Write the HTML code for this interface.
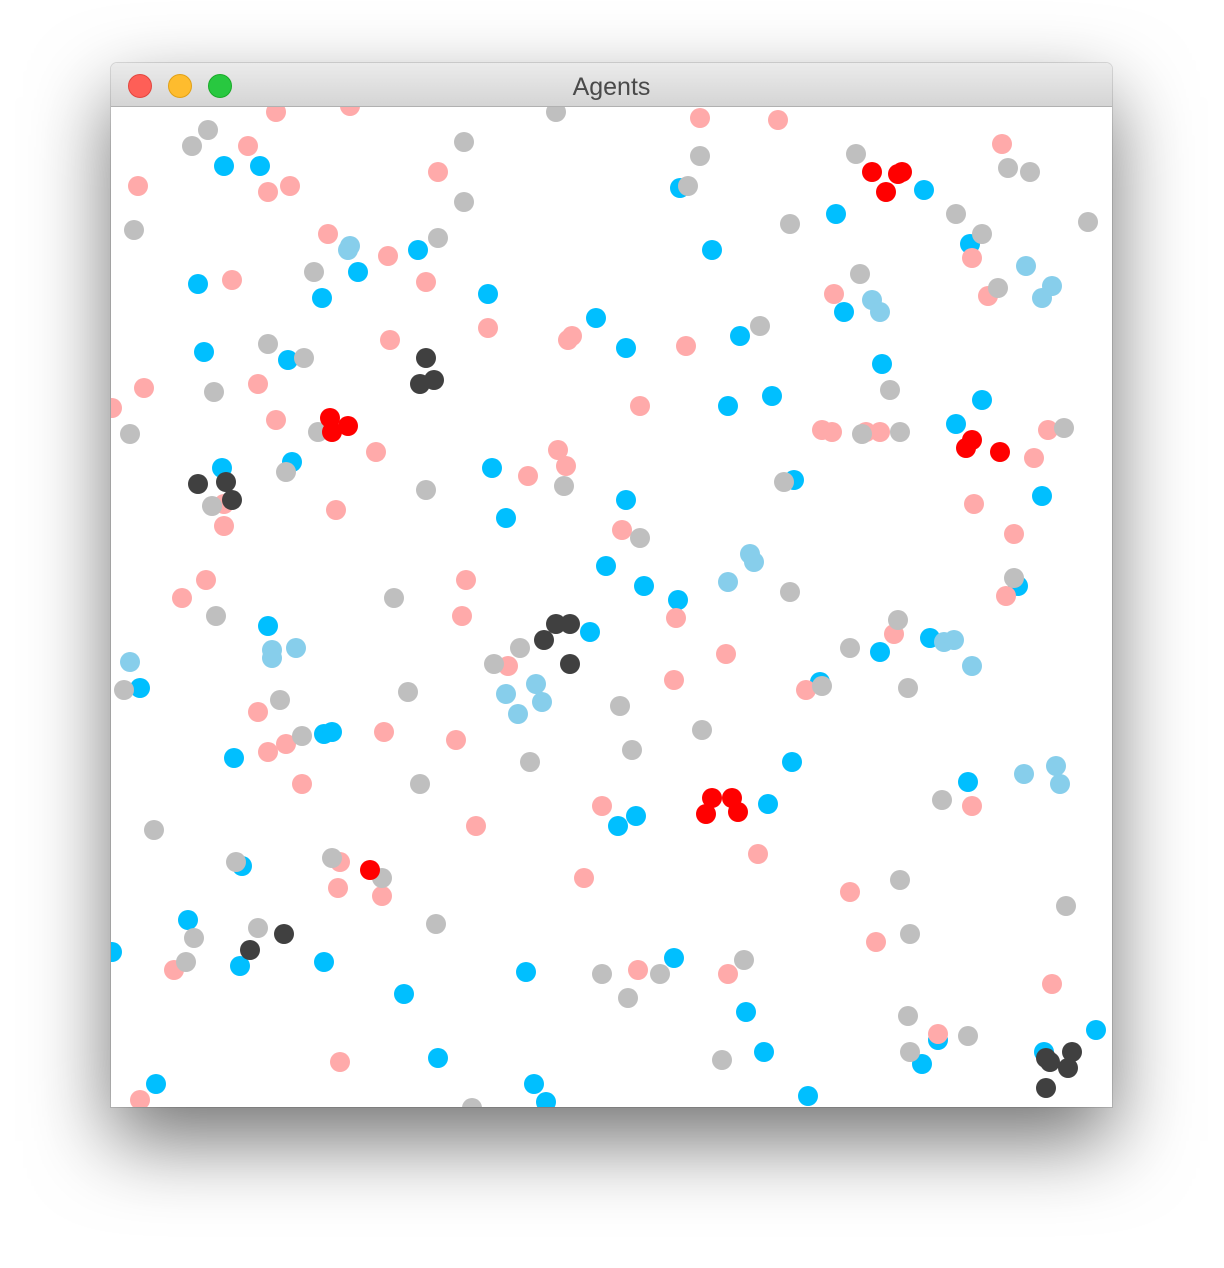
<!DOCTYPE html>
<html><head><meta charset="utf-8">
<style>
html,body{margin:0;padding:0;background:#fff;width:1224px;height:1268px;overflow:hidden;}
#win{position:absolute;left:111px;top:63px;width:1001px;height:1044px;border-radius:6px 6px 0 0;box-shadow:0 34px 80px rgba(0,0,0,0.55),0 0 0 1px rgba(0,0,0,0.12);background:#fff;overflow:hidden;}
#bar{position:absolute;left:0;top:0;width:1001px;height:44px;background:linear-gradient(#ebebeb,#d5d5d5);border-bottom:1px solid #b1b1b1;box-sizing:border-box;}
.tl{position:absolute;top:11px;width:24px;height:24px;border-radius:50%;box-sizing:border-box;}
#title{position:absolute;left:0;width:1001px;top:10px;text-align:center;font:25px "Liberation Sans",sans-serif;color:#4a4a4a;}
svg{position:absolute;left:0;top:44px;}
</style></head><body>
<div id="win">
 <div id="bar">
  <div class="tl" style="left:17px;background:#fe5f57;border:1px solid #e2463f"></div>
  <div class="tl" style="left:57px;background:#febc2e;border:1px solid #e1a116"></div>
  <div class="tl" style="left:97px;background:#28c840;border:1px solid #1aab29"></div>
  <div id="title">Agents</div>
 </div>
 <svg id="plot" width="1001" height="1000"></svg>
</div>
<script>
const pinkX=[276,350,248,138,268,290,438,700,778,1002,328,388,232,426,488,390,572,568,686,834,972,988,144,258,112,276,640,376,558,566,528,822,832,866,880,1048,1034,336,224,224,974,1014,622,206,182,466,462,676,894,1006,726,508,674,806,258,384,456,268,286,302,602,972,476,758,340,338,382,584,850,876,174,638,728,1052,938,340,140];
const pinkY=[112,106,146,186,192,186,172,118,120,144,234,256,280,282,328,340,336,340,346,294,258,296,388,384,408,420,406,452,450,466,476,430,432,432,432,430,458,510,504,526,504,534,530,580,598,580,616,618,634,596,654,666,680,690,712,732,740,752,744,784,806,806,826,854,862,888,896,878,892,942,970,970,974,984,1034,1062,1100];
const grayX=[208,192,464,556,700,688,856,1008,1030,464,134,790,956,982,1088,438,314,860,998,760,268,304,214,890,130,318,862,900,1064,286,426,564,784,212,640,1014,790,394,216,898,850,520,494,124,280,408,908,822,620,302,702,632,530,420,942,154,236,332,382,900,1066,436,258,194,910,186,602,660,744,628,908,968,910,722,472];
const grayY=[130,146,142,112,156,186,154,168,172,202,230,224,214,234,222,238,272,274,288,326,344,358,392,390,434,432,434,432,428,472,490,486,482,506,538,578,592,598,616,620,648,648,664,690,700,692,688,686,706,736,730,750,762,784,800,830,862,858,878,880,906,924,928,938,934,962,974,974,960,998,1016,1036,1052,1060,1108];
const blueX=[224,260,680,924,836,418,712,970,358,198,322,488,596,844,204,288,626,740,882,772,728,982,956,222,292,492,794,1042,626,506,606,644,678,1018,268,590,930,880,140,820,324,332,234,792,968,768,636,618,242,188,112,240,324,526,674,404,746,1096,938,764,438,922,1044,156,534,546,808];
const blueY=[166,166,188,190,214,250,250,244,272,284,298,294,318,312,352,360,348,336,364,396,406,400,424,468,462,468,480,496,500,518,566,586,600,586,626,632,638,652,688,682,734,732,758,762,782,804,816,826,866,920,952,966,962,972,958,994,1012,1030,1040,1052,1058,1064,1052,1084,1084,1102,1096];
const lightX=[350,348,1026,1052,872,880,1042,750,754,728,130,272,272,296,944,954,972,536,506,542,518,1024,1056,1060];
const lightY=[246,250,266,286,300,312,298,554,562,582,662,650,658,648,642,640,666,684,694,702,714,774,766,784];
const darkX=[426,420,434,198,226,232,556,570,544,570,250,284,1046,1072,1050,1068,1046];
const darkY=[358,384,380,484,482,500,624,624,640,664,950,934,1058,1052,1062,1068,1088];
const redX=[872,898,902,886,330,348,332,972,966,1000,712,732,706,738,370];
const redY=[172,174,172,192,418,426,432,440,448,452,798,798,814,812,870];
const groups=[
 {name:'blue',x:blueX,y:blueY,c:'#00bfff'},
 {name:'pink',x:pinkX,y:pinkY,c:'#ffaaaa'},
 {name:'gray',x:grayX,y:grayY,c:'#bfbfbf'},
 {name:'lightblue',x:lightX,y:lightY,c:'#87ceeb'},
 {name:'dark',x:darkX,y:darkY,c:'#404040'},
 {name:'red',x:redX,y:redY,c:'#ff0000'}];
const sx=v=>v-111, sy=v=>v-107;
const svg=document.getElementById('plot');
const NS='http://www.w3.org/2000/svg';
groups.forEach(g=>{
 g.x.forEach((xv,i)=>{
  const c=document.createElementNS(NS,'circle');
  c.setAttribute('cx',sx(xv));c.setAttribute('cy',sy(g.y[i]));c.setAttribute('r',10);c.setAttribute('fill',g.c);
  
  
  svg.appendChild(c);
 });
});
</script>
</body></html>
